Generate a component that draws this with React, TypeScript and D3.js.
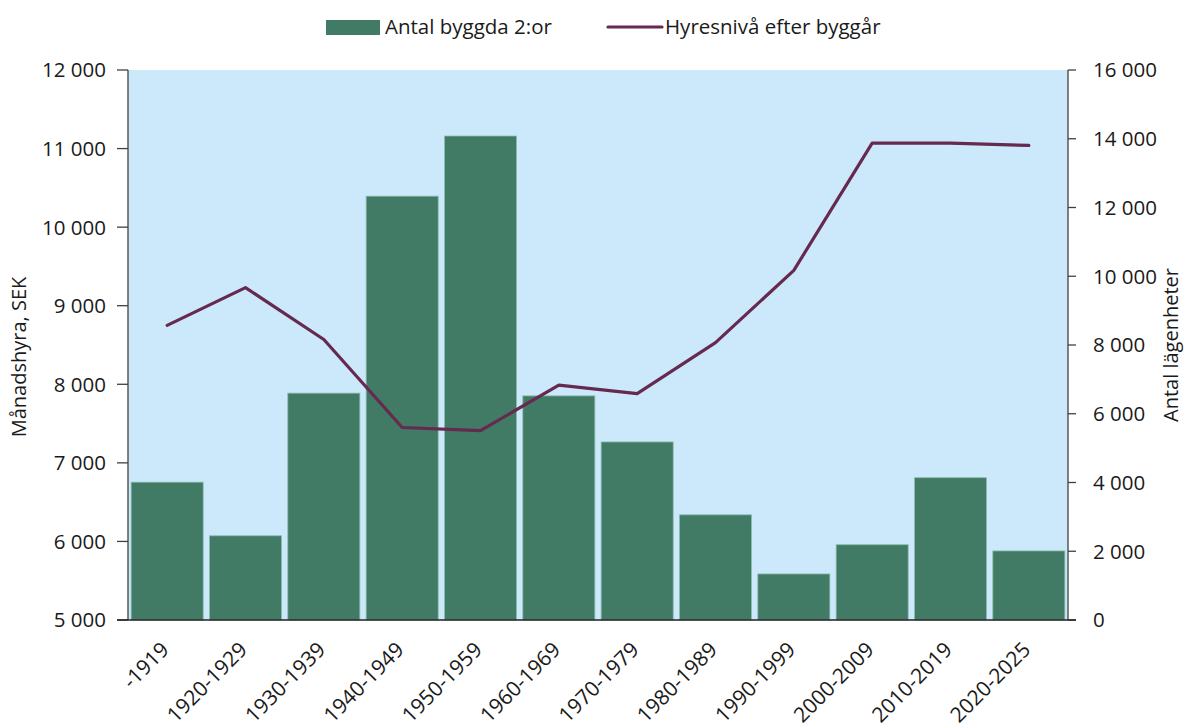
import React from "react";
import * as d3 from "d3";

const categories = ["-1919", "1920-1929", "1930-1939", "1940-1949", "1950-1959", "1960-1969", "1970-1979", "1980-1989", "1990-1999", "2000-2009", "2010-2019", "2020-2025"];
const antalByggda = [4010, 2450, 6600, 12330, 14080, 6520, 5180, 3060, 1340, 2190, 4140, 2010];
const hyresniva = [8750, 9230, 8570, 7450, 7410, 7990, 7880, 8530, 9450, 11070, 11070, 11040];
const leftTicks = [5000, 6000, 7000, 8000, 9000, 10000, 11000, 12000];
const rightTicks = [0, 2000, 4000, 6000, 8000, 10000, 12000, 14000, 16000];

const W = 1184, H = 728;
const M = { left: 128, right: 1068, top: 70, bottom: 620 };
const FONT = "'Open Sans', Lato, sans-serif";
const fmt = (v: number) => d3.format(",")(v).replace(/,/g, " ");

export default function App() {
  const x = d3.scaleBand<string>().domain(categories).range([M.left, M.right]).paddingInner(0.08).paddingOuter(0.04);
  const yL = d3.scaleLinear().domain([5000, 12000]).range([M.bottom, M.top]);
  const yR = d3.scaleLinear().domain([0, 16000]).range([M.bottom, M.top]);
  const line = d3.line<number>().x((_, i) => (x(categories[i]) as number) + x.bandwidth() / 2).y((d) => yL(d));
  const axisColor = "#404040";
  const txt = "#1a1a1a";
  return (
    <svg width={W} height={H} style={{ position: "absolute", left: 0, top: 0, fontFamily: FONT }}>
      <rect x={M.left} y={M.top} width={M.right - M.left} height={M.bottom - M.top} fill="#cce9fb" />
      {categories.map((c, i) => (
        <rect key={c} x={x(c)} y={yR(antalByggda[i])} width={x.bandwidth()} height={M.bottom - yR(antalByggda[i])} fill="#427b65" stroke="#8fbcb0" strokeWidth={0.8} />
      ))}
      <path d={line(hyresniva) || ""} fill="none" stroke="#66294f" strokeWidth={3.2} strokeLinejoin="round" strokeLinecap="round" />
      {/* left axis */}
      <line x1={M.left} x2={M.left} y1={M.top} y2={M.bottom} stroke={axisColor} strokeWidth={1.3} />
      {leftTicks.map((t) => (
        <g key={t}>
          <line x1={M.left - 11} x2={M.left} y1={yL(t)} y2={yL(t)} stroke={axisColor} strokeWidth={1.3} />
          <text x={M.left - 22} y={yL(t)} dy="0.36em" textAnchor="end" fontSize={20.5} fill={txt}>{fmt(t)}</text>
        </g>
      ))}
      {/* right axis */}
      <line x1={M.right} x2={M.right} y1={M.top} y2={M.bottom} stroke={axisColor} strokeWidth={1.3} />
      {rightTicks.map((t) => (
        <g key={t}>
          <line x1={M.right} x2={M.right + 8} y1={yR(t)} y2={yR(t)} stroke={axisColor} strokeWidth={1.3} />
          <text x={M.right + 25} y={yR(t)} dy="0.36em" textAnchor="start" fontSize={20.5} fill={txt}>{fmt(t)}</text>
        </g>
      ))}
      {/* bottom axis */}
      <line x1={M.left - 11} x2={M.right + 8} y1={M.bottom} y2={M.bottom} stroke="#222" strokeWidth={1.5} />
      {categories.map((c) => {
        const cx = (x(c) as number) + x.bandwidth() / 2;
        return (
          <text key={c} transform={`translate(${cx + 3},${M.bottom + 31}) rotate(-45)`} textAnchor="end" fontSize={21} fill={txt}>{c}</text>
        );
      })}
      {/* axis titles */}
      <text transform={`translate(26,357) rotate(-90)`} textAnchor="middle" fontSize={20} fill={txt}>Månadshyra, SEK</text>
      <text transform={`translate(1178,345) rotate(-90)`} textAnchor="middle" fontSize={20} fill={txt}>Antal lägenheter</text>
      {/* legend */}
      <rect x={326} y={20} width={54} height={15} fill="#427b65" />
      <text x={385} y={27} dy="0.36em" fontSize={20.5} fill={txt}>Antal byggda 2:or</text>
      <line x1={608} x2={662} y1={27} y2={27} stroke="#66294f" strokeWidth={3.2} strokeLinecap="round" />
      <text x={665} y={27} dy="0.36em" fontSize={20.5} fill={txt}>Hyresnivå efter byggår</text>
    </svg>
  );
}
